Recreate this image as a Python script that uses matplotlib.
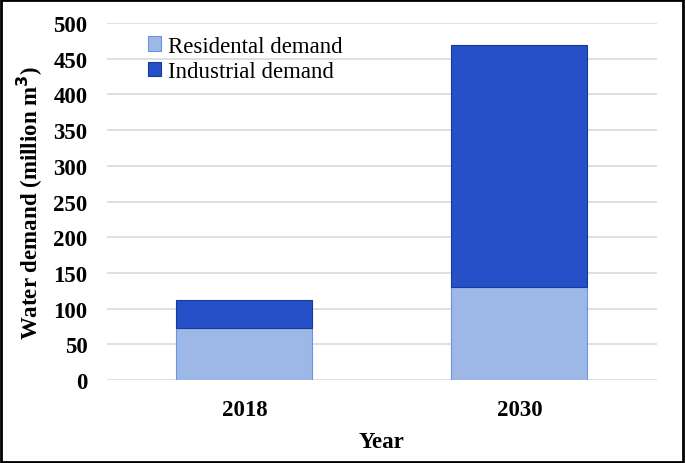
import numpy as np
import matplotlib
matplotlib.use("Agg")
from matplotlib import pyplot as plt
from matplotlib.patches import Rectangle

years = ["2018", "2030"]
residential = [73, 130]
industrial = [39, 339]

plt.rcParams['font.family'] = ['Liberation Serif', 'DejaVu Serif']

fig = plt.figure(figsize=(6.85, 4.64), dpi=100, facecolor="w")
ax = fig.add_axes([0.156, 0.179, 0.803, 0.769])

x = np.arange(len(years))
ax.bar(x, residential, width=0.495, color="#9db8e6", edgecolor="#6a95dc", linewidth=0.8,
       label="Residental demand", zorder=3)
ax.bar(x, industrial, width=0.495, bottom=residential, color="#2550c8", edgecolor="#173a9a",
       linewidth=0.8, label="Industrial demand", zorder=3)

ax.set_xlim(-0.5, 1.5)
ax.set_ylim(0, 500)
ax.set_yticks(np.arange(0, 501, 50))
ax.set_xticks(x)
ax.set_xticklabels(years)
ax.yaxis.grid(True, color="#d9d9d9", linewidth=1.2, zorder=0)
ax.set_axisbelow(True)
for s in ax.spines.values():
    s.set_visible(False)
ax.tick_params(length=0, labelsize=16.5, pad=14)
for t in ax.get_xticklabels() + ax.get_yticklabels():
    t.set_fontweight("bold")
ax.tick_params(axis="x", pad=14)

ax.set_xlabel("Year", fontsize=16.5, fontweight="bold", labelpad=8)
ax.set_ylabel("Water demand (million m$^{\\mathbf{3}}$)", fontsize=16.5, fontweight="bold", labelpad=6)

leg = ax.legend(loc="upper left", bbox_to_anchor=(0.045, 1.01), frameon=False, fontsize=16.5,
                handlelength=0.6, handleheight=0.6, handletextpad=0.3, labelspacing=0.2,
                borderpad=0.2)

fig.add_artist(Rectangle((0.002, 0.003), 0.995, 0.994, transform=fig.transFigure,
                         fill=False, edgecolor="black", linewidth=2))

plt.savefig("out.png", dpi=100)
